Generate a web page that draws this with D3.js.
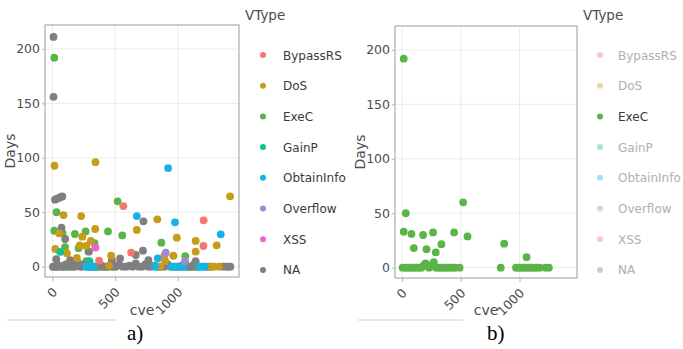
<!DOCTYPE html>
<html><head><meta charset="utf-8">
<script src="https://cdn.jsdelivr.net/npm/d3@7"></script>
<style>
html,body{margin:0;padding:0;background:#fff;}
svg{display:block;font-family:"DejaVu Sans",sans-serif;}
</style></head>
<body>
<svg id="chart" width="683" height="349"></svg>
<script>
// ---- data: [cve, days] per vulnerability type ----
const vtypes = ["BypassRS","DoS","ExeC","GainP","ObtainInfo","Overflow","XSS","NA"];
const typeColors = ["#F5766E","#C79C1A","#5BB446","#15BF93","#14B3E6","#9D8AD0","#EE63C8","#7F7F7F"];

const bypassRS = [[566,55.7],[1207,42.6],[1205,19],[628,12.9],[893,10],[372,5.5]];
const dos = [[16,92.7],[343,96],[1418,64.6],[88,47.4],[229,46.5],[837,43.5],[53,30.6],[341,34.6],
  [238,27.5],[673,33.7],[992,26.6],[1143,23.6],[1311,19.6],[22,16.2],[218,19.5],[306,23.6],[270,19],
  [115,12.3],[195,8],[468,10],[965,10],[1143,13.8],[899,5],[450,1],[860,0],[1255,0],[1290,0],[1330,0]];
const exeC = [[14,192],[520,60],[32,50],[14,33],[80,31],[179,30],[264,32.4],[443,32.4],[557,28.7],
  [100,18],[208,17],[287,14],[335,21.6],[869,22],[1060,9.6],
  [5,0],[25,0],[45,0],[65,0],[85,0],[105,0],[125,0],[145,0],[165,0],[185,2],[200,4],[215,2],[230,0],
  [250,2],[270,5],[290,0],[310,0],[330,0],[350,0],[370,0],[390,0],[410,0],[430,0],[450,0],[490,0],
  [840,0],[970,0],[990,0],[1010,0],[1030,0],[1050,0],[1070,0],[1090,0],[1110,0],[1130,0],[1150,0],
  [1170,0],[1220,0],[1250,0]];
const gainP = [[61,13.5],[295,5]];
const obtainInfo = [[923,90.6],[673,46.5],[978,40.7],[1343,29.7],[840,7.7],
  [270,0],[300,0],[327,0],[820,0],[950,0],[975,0],[1000,0],[1045,0],[1170,0],[1195,0],[1215,0]];
const overflow = [[904,12.8],[1058,5]];
const xss = [[343,17.5]];
const naType = [[8,211],[8,156],[20,61.5],[35,62.5],[50,63],[65,64],[78,64.5],[726,41.6],[72,35.8],
  [101,25.4],[290,13.8],[665,10.7],[722,14.7],[540,7.7],[766,6],[1143,5],[30,6.8],[141,6],[474,6],
  [5,0],[30,0],[55,1],[80,0],[105,2],[130,0],[150,3],[175,0],[200,1],[225,0],[250,2],[275,0],[300,1],
  [325,0],[350,0],[380,2],[405,0],[430,0],[455,1],[480,0],[505,0],[530,2],[560,0],[590,0],[615,1],
  [640,0],[665,3],[690,0],[715,0],[740,2],[765,0],[790,0],[815,1],[845,0],[870,0],[895,0],[920,2],
  [945,0],[1010,0],[1035,1],[1080,0],[1105,0],[1130,2],[1145,0],[1230,0],[1270,0],[1360,0],[1385,0],
  [1405,0],[1420,0]];
const seriesData = [bypassRS, dos, exeC, gainP, obtainInfo, overflow, xss, naType];
// draw order: ExeC under NA, everything else on top
const drawOrder = [2, 7, 0, 1, 3, 4, 5, 6];

const xTicks = [0, 500, 1000];
const yTicks = [0, 50, 100, 150, 200];
const xDomain = [-60, 1489];
const yDomain = [-9.5, 222];

const svg = d3.select("#chart");

function panel(o) {
  const x = d3.scaleLinear().domain(xDomain).range([o.left, o.right]);
  const y = d3.scaleLinear().domain(yDomain).range([o.bottom, o.top]);
  const g = svg.append("g");
  // grid
  g.append("g").selectAll("line.v").data(xTicks).join("line")
    .attr("x1", d => x(d)).attr("x2", d => x(d)).attr("y1", o.top).attr("y2", o.bottom)
    .attr("stroke", "#ebebeb").attr("stroke-width", 1);
  g.append("g").selectAll("line.h").data(yTicks).join("line")
    .attr("y1", d => y(d)).attr("y2", d => y(d)).attr("x1", o.left).attr("x2", o.right)
    .attr("stroke", "#ebebeb").attr("stroke-width", 1);
  // points
  const clip = "clip" + o.id;
  svg.append("clipPath").attr("id", clip).append("rect")
    .attr("x", o.left).attr("y", o.top).attr("width", o.right - o.left).attr("height", o.bottom - o.top);
  const pg = g.append("g").attr("clip-path", `url(#${clip})`);
  drawOrder.forEach(i => {
    if (o.only !== undefined && o.only !== i) return;
    pg.append("g").selectAll("circle").data(seriesData[i]).join("circle")
      .attr("cx", d => x(d[0])).attr("cy", d => y(d[1])).attr("r", 3.9)
      .attr("fill", typeColors[i]);
  });
  // border
  g.append("rect").attr("x", o.left).attr("y", o.top)
    .attr("width", o.right - o.left).attr("height", o.bottom - o.top)
    .attr("fill", "none").attr("stroke", "#b3b3b3").attr("stroke-width", 1.3);
  // y axis
  const ya = g.append("g").attr("transform", `translate(${o.left},0)`)
    .call(d3.axisLeft(y).tickValues(yTicks).tickSize(3).tickPadding(2).tickFormat(d3.format("d")));
  ya.select(".domain").remove();
  ya.selectAll(".tick line").attr("stroke", "#b3b3b3");
  ya.selectAll(".tick text").attr("fill", "#4d4d4d").style("font-size", "12.5px")
    .style("font-family", "DejaVu Sans, sans-serif");
  // x axis
  const xa = g.append("g").attr("transform", `translate(0,${o.bottom})`)
    .call(d3.axisBottom(x).tickValues(xTicks).tickSize(4).tickFormat(d3.format("d")));
  xa.select(".domain").remove();
  xa.selectAll(".tick line").attr("stroke", "#b3b3b3");
  xa.selectAll(".tick text").attr("fill", "#4d4d4d").style("font-size", "12.5px")
    .style("font-family", "DejaVu Sans, sans-serif")
    .attr("y", 0).attr("dy", 0).attr("text-anchor", "end")
    .attr("transform", "translate(5,16) rotate(-45)");
  // axis titles
  g.append("text").attr("x", (o.left + o.right) / 2).attr("y", 315)
    .attr("text-anchor", "middle").attr("fill", "#4d4d4d").style("font-size", "14px").text("cve");
  g.append("text").attr("transform", `translate(${o.left - 30},${(o.top + o.bottom) / 2}) rotate(-90)`)
    .attr("text-anchor", "middle").attr("fill", "#4d4d4d").style("font-size", "14px").text("Days");
  // legend
  const lg = g.append("g");
  lg.append("text").attr("x", o.legX).attr("y", 20).attr("fill", "#4d4d4d")
    .style("font-size", "13.5px").text("VType");
  vtypes.forEach((t, i) => {
    const cy = 55 + i * 30.7;
    const faded = o.only !== undefined && o.only !== i;
    lg.append("circle").attr("cx", o.legDotX).attr("cy", cy).attr("r", 3)
      .attr("fill", typeColors[i]).attr("fill-opacity", faded ? 0.4 : 1);
    lg.append("text").attr("x", o.legTextX).attr("y", cy + 4.5)
      .attr("fill", faded ? "#b0b0b0" : "#3a3a3a").style("font-size", "12px").text(t);
  });
  // caption
  g.append("line").attr("x1", o.capLine[0]).attr("x2", o.capLine[1]).attr("y1", 320).attr("y2", 320)
    .attr("stroke", "#d0d0d0").attr("stroke-width", 1);
  g.append("text").attr("x", o.capX).attr("y", 340).attr("fill", "#000")
    .style("font-family", "Liberation Serif, Times New Roman, serif").style("font-size", "21px")
    .text(o.caption);
}

panel({id: "a", left: 45, right: 239, top: 25, bottom: 277, legX: 245, legDotX: 263, legTextX: 283,
  capLine: [7, 117], capX: 127, caption: "a)"});
panel({id: "b", left: 395, right: 577, top: 26, bottom: 278, legX: 583, legDotX: 600, legTextX: 618,
  capLine: [358, 463], capX: 487, caption: "b)", only: 2});
</script>
</body></html>
